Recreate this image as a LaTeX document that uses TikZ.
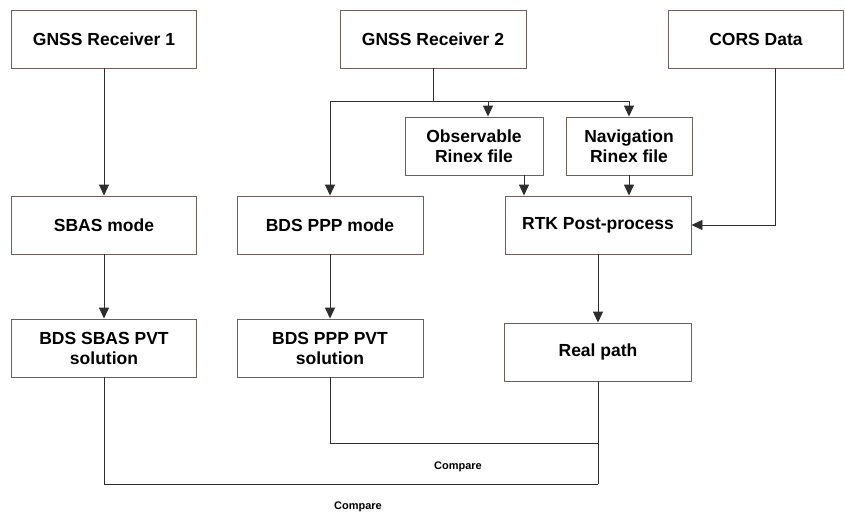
\documentclass[tikz,border=0pt]{standalone}
\usepackage{fontspec}
\setmainfont{Liberation Sans}
\usetikzlibrary{arrows.meta}

\definecolor{boxline}{RGB}{112,96,92}
\definecolor{wire}{RGB}{45,45,45}

\tikzset{
  block/.style={draw=boxline, line width=0.9pt, fill=white, inner sep=0pt,
    minimum height=58pt, align=center,
    font=\fontsize{17.5}{20}\selectfont\bfseries},
  note/.style={font=\fontsize{11}{13}\selectfont\bfseries}
}

\begin{document}
\begin{tikzpicture}[x=1pt, y=-1pt, line width=0.9pt, draw=wire,
  >={Triangle[length=11pt,width=10pt]}]
\useasboundingbox (0,0) rectangle (845,512);

% sources
\node[block, minimum width=185pt] (rx1) at (104,39) {GNSS Receiver 1};
\node[block, minimum width=186pt] (rx2) at (433,39) {GNSS Receiver 2};
\node[block, minimum width=175pt] (cors) at (756,39) {CORS Data};

% rinex files
\node[block, minimum width=138pt] (obs) at (474,146) {Observable\\Rinex file};
\node[block, minimum width=126pt] (nav) at (629,146) {Navigation\\Rinex file};

% processing modes
\node[block, minimum width=185pt] (sbas) at (104,225) {SBAS mode};
\node[block, minimum width=186pt] (ppp) at (330,225) {BDS PPP mode};
\node[block, minimum width=186pt] (rtk) at (598,225) {RTK Post-process};

% results
\node[block, minimum width=185pt] (sbaspvt) at (104,348) {BDS SBAS PVT\\solution};
\node[block, minimum width=186pt] (ppppvt) at (330,348) {BDS PPP PVT\\solution};
\node[block, minimum width=187pt] (real) at (598,352) {Real path};

\coordinate (split) at (433,101);
\coordinate (join1) at (598,443);
\coordinate (join2) at (598,484);

\draw[->] (rx1) -- (sbas);
\draw (rx2) -- (split);
\draw[->] (split) -| (ppp);
\draw[->] (split) -| (nav);
\draw[->] (split) -| ([xshift=14pt]obs.north);
\draw[->] ([xshift=50pt]obs.south) -- ([xshift=50pt]obs.south |- rtk.north);
\draw[->] (nav) -- (nav |- rtk.north);
\draw[->] ([xshift=19pt]cors.south) |- (rtk.east);
\draw[->] (rtk) -- (real);
\draw[->] (sbas) -- (sbaspvt);
\draw[->] (ppp) -- (ppppvt);

% comparison paths
\draw (ppppvt) |- (join1);
\draw (real) -- (join2);
\draw (sbaspvt) |- (join2);
\node[note] (cmp1) at (458,467) {Compare};
\node[note] (cmp2) at (358,507) {Compare};
\end{tikzpicture}
\end{document}
